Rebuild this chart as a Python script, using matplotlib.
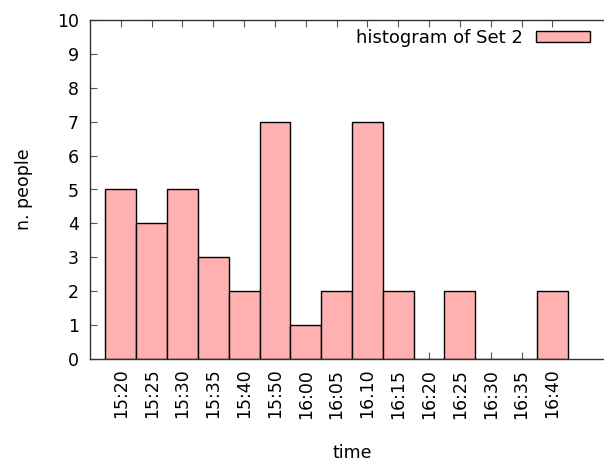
import matplotlib
matplotlib.use("Agg")
import matplotlib.pyplot as plt
import numpy as np

categories = ["15:20", "15:25", "15:30", "15:35", "15:40", "15:50", "16:00",
              "16:05", "16.10", "16:15", "16:20", "16:25", "16:30", "16:35", "16:40"]
counts = [5, 4, 5, 3, 2, 7, 1, 2, 7, 2, 0, 2, 0, 0, 2]
series_label = "histogram of Set 2"

plt.rcParams['font.family'] = ['DejaVu Sans']

W, H = 604, 461
fig = plt.figure(figsize=(W / 100, H / 100), dpi=100)
left, right, top, bottom = 90, 614, 20, 359
ax = fig.add_axes([left / W, 1 - bottom / H, (right - left) / W, (bottom - top) / H])

x = np.arange(len(categories))
ax.bar(x, counts, width=1.0, color='#ffb0b0', edgecolor='black', linewidth=1.0,
       label=series_label, zorder=2)

fs = 12.5
ax.set_xlim(-1.0, 16.0)
ax.set_ylim(0, 10)
ax.set_yticks(range(0, 11))
ax.set_xticks(x)
ax.set_xticklabels(categories, rotation=90, fontsize=fs)
ax.tick_params(axis='y', labelsize=fs, pad=8)
ax.tick_params(axis='x', pad=7)
ax.tick_params(direction='in', length=5, width=0.8, color='#555555',
               top=True, right=True)
for s in ax.spines.values():
    s.set_linewidth(1.0)
    s.set_color('#333333')

ax.set_xlabel('time', fontsize=fs, labelpad=18)
ax.set_ylabel('n. people', fontsize=fs, labelpad=17)

ax.legend(loc='upper right', bbox_to_anchor=(590 / W, 1 - 29 / H),
          bbox_transform=fig.transFigure, frameon=False, markerfirst=False,
          fontsize=13, handlelength=3.0, handleheight=0.6, handletextpad=0.7,
          borderpad=0, borderaxespad=0)

fig.savefig('out.png', dpi=100)
